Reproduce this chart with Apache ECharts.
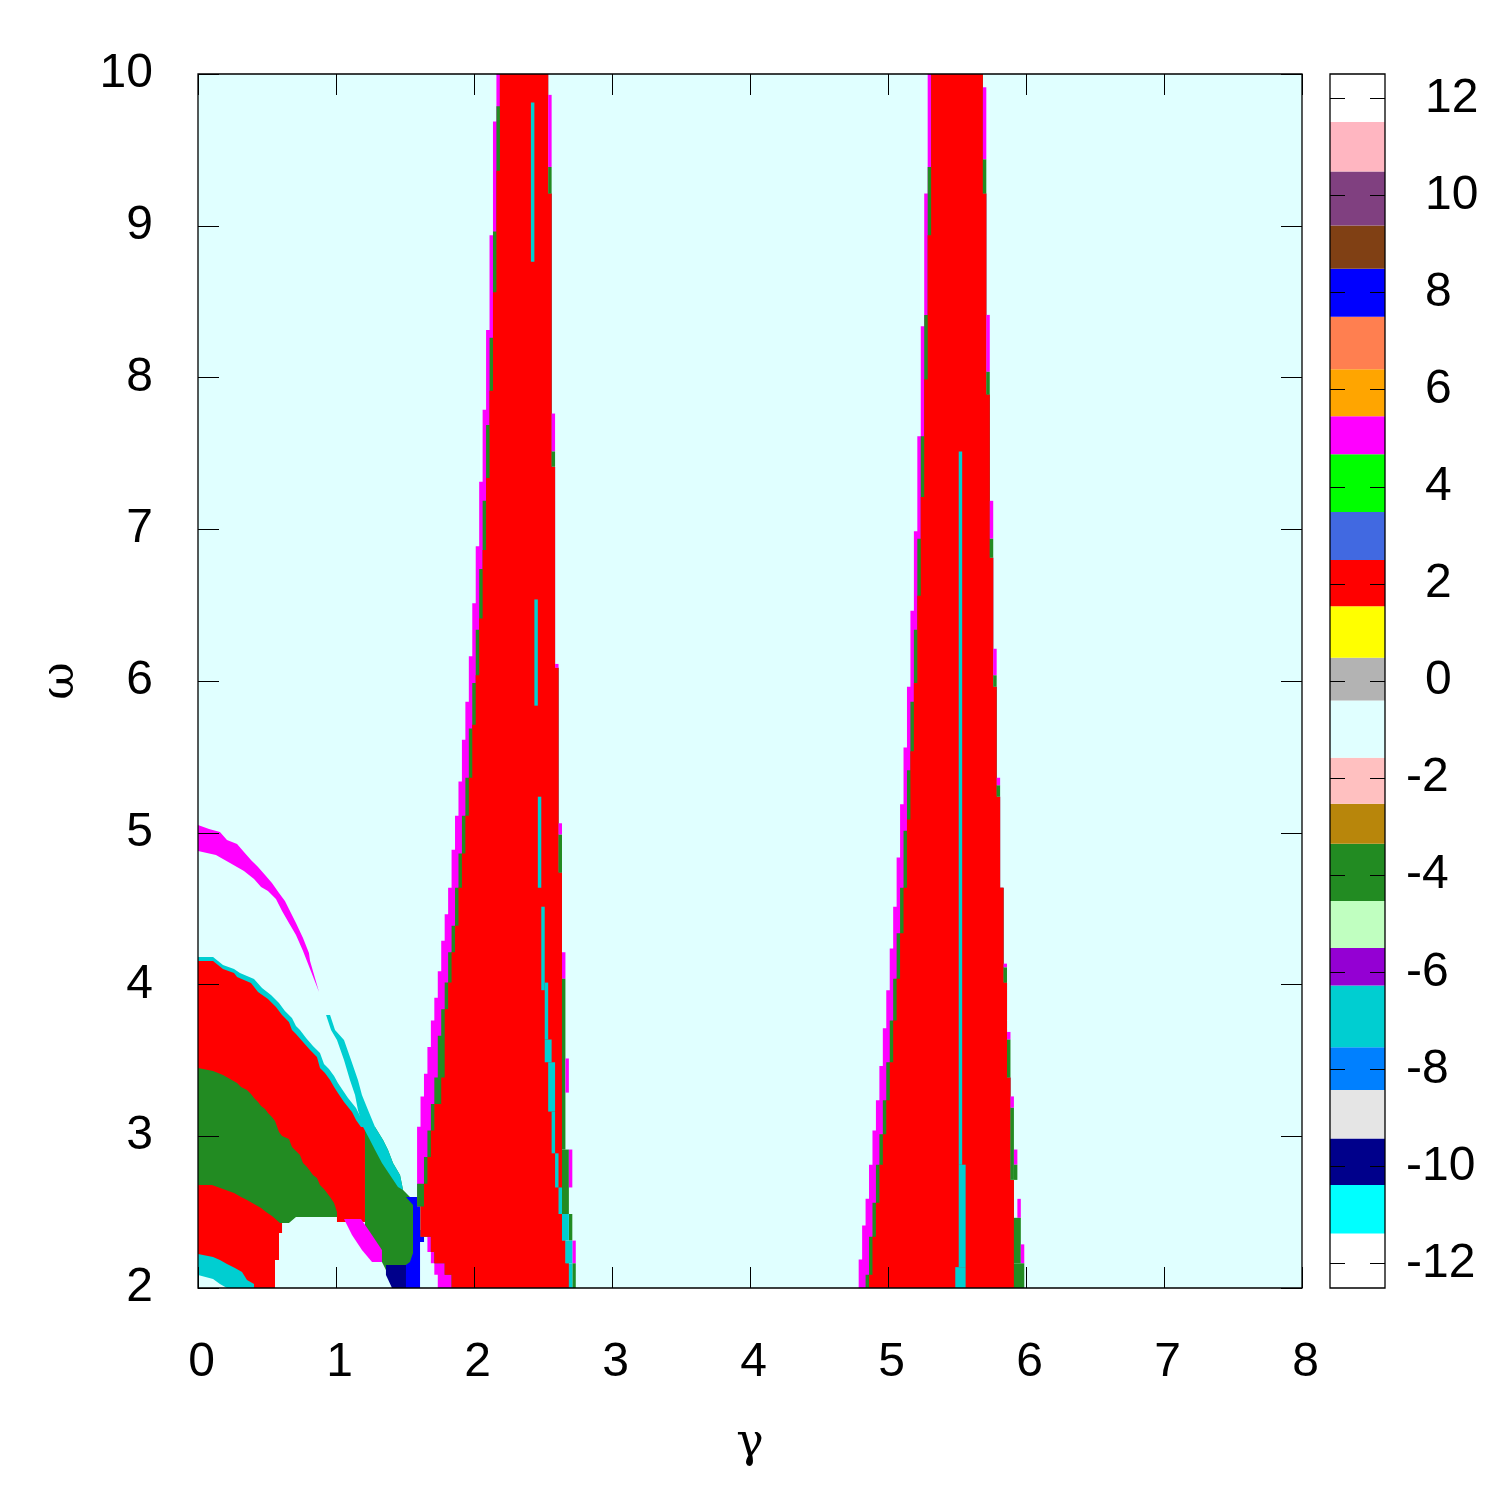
<!DOCTYPE html>
<html>
<head>
<meta charset="utf-8">
<script src="https://cdn.jsdelivr.net/npm/echarts@6/dist/echarts.min.js"></script>
<style>
  html, body { margin: 0; padding: 0; background: #fff; }
  #chart { width: 1500px; height: 1500px; }
</style>
</head>
<body>
<div id="chart"></div>
<script>
// axes
const gammaRange = [0, 8];
const omegaRange = [2, 10];

// colour box: band edges, one colour per integer value -12 .. 12
const cbTicks = [-12, -10, -8, -6, -4, -2, 0, 2, 4, 6, 8, 10, 12];
const cbEdges = [-12.5, -11.38, -10.38, -9.42, -8.42, -7.54, -6.27, -5.5, -4.53, -3.35, -2.53, -1.58, -0.4,
  0.48, 1.54, 2.49, 3.48, 4.67, 5.45, 6.42, 7.5, 8.49, 9.38, 10.49, 11.51, 12.5];
const cbColors = ['#ffffff', '#00ffff', '#00008b', '#e5e5e5', '#0080ff', '#00ced1', '#9400d3', '#c0ffc0',
  '#228b22', '#b8860b', '#ffc0c0', '#e0ffff', '#b3b3b3', '#ffff00', '#ff0000', '#4169e1', '#00ff00',
  '#ff00ff', '#ffa500', '#ff7f50', '#0000ff', '#804014', '#804080', '#ffb6c1', '#ffffff'];

// lower-left regions, outlines as [gamma, omega]
const magentaArc = [[0,5.051],[0.080,5.025],[0.159,5.005],[0.210,4.952],[0.283,4.926],[0.333,4.873],[0.384,4.820],
  [0.435,4.774],[0.486,4.722],[0.536,4.669],[0.587,4.603],[0.630,4.550],[0.659,4.498],[0.710,4.405],[0.761,4.306],
  [0.804,4.208],[0.812,4.155],[0.877,3.951],[0.812,4.102],[0.761,4.221],[0.710,4.326],[0.659,4.405],[0.609,4.484],
  [0.565,4.563],[0.507,4.616],[0.457,4.642],[0.406,4.695],[0.333,4.748],[0.232,4.801],[0.181,4.827],[0.130,4.853],[0,4.880]];
const redArcEdge = [[0,4.181],[0.109,4.181],[0.181,4.128],[0.261,4.102],[0.304,4.076],[0.406,4.036],[0.464,3.977],
  [0.529,3.931],[0.587,3.878],[0.630,3.825],[0.681,3.779],[0.710,3.727],[0.739,3.700],[0.783,3.647],[0.833,3.595],
  [0.884,3.549],[0.913,3.476],[0.949,3.443],[0.986,3.397],[1.014,3.351],[1.043,3.311],[1.087,3.252],[1.116,3.219],
  [1.145,3.186],[1.174,3.133],[1.210,3.087],[1.210,3.008],[0,3.008]];
const redArc = [[0,4.155],[0.109,4.155],[0.181,4.102],[0.261,4.076],[0.283,4.049],[0.384,4.010],[0.435,3.951],
  [0.507,3.904],[0.565,3.852],[0.609,3.799],[0.659,3.753],[0.681,3.700],[0.710,3.674],[0.761,3.621],[0.812,3.568],
  [0.862,3.522],[0.884,3.450],[0.920,3.417],[0.957,3.371],[0.986,3.325],[1.014,3.285],[1.058,3.226],[1.087,3.193],
  [1.116,3.160],[1.145,3.107],[1.181,3.061],[1.210,3.061],[1.210,2.435],[1.007,2.435],[1.007,2.468],[0.609,2.468],
  [0.609,2.362],[0.587,2.362],[0.587,2.184],[0.558,2.184],[0.558,2.0],[0,2.0]];
const greenArc = [[0,3.450],[0.109,3.430],[0.181,3.404],[0.232,3.377],[0.283,3.351],[0.312,3.325],[0.355,3.305],
  [0.384,3.278],[0.406,3.252],[0.435,3.226],[0.457,3.199],[0.486,3.180],[0.507,3.153],[0.536,3.127],[0.558,3.100],
  [0.587,3.028],[0.609,3.002],[0.659,2.982],[0.681,2.929],[0.710,2.903],[0.739,2.876],[0.761,2.824],[0.790,2.797],
  [0.812,2.771],[0.833,2.745],[0.862,2.725],[0.884,2.679],[0.913,2.652],[0.935,2.626],[0.957,2.600],[0.986,2.560],
  [1.007,2.501],[1.007,2.468],[0.710,2.468],[0.659,2.428],[0.594,2.428],[0.536,2.474],[0.493,2.501],[0.457,2.527],
  [0.406,2.554],[0.355,2.580],[0.312,2.600],[0.261,2.626],[0.181,2.652],[0.101,2.679],[0,2.679]];
const cornerCyan = [[0,2.224],[0.109,2.204],[0.159,2.184],[0.210,2.158],[0.268,2.132],[0.319,2.105],[0.355,2.053],
  [0.406,2.026],[0.406,2.0],[0,2.0]];
const cornerBlank = [[0,2.086],[0.109,2.059],[0.159,2.026],[0.210,2.0],[0,2.0]];
const lensGreen = [[1.181,3.061],[1.283,3.061],[1.341,2.975],[1.377,2.909],[1.413,2.824],[1.464,2.745],[1.486,2.646],
  [1.536,2.600],[1.587,2.560],[1.609,2.481],[1.609,2.316],[1.587,2.231],[1.558,2.165],[1.536,2.119],[1.362,2.119],
  [1.333,2.171],[1.283,2.217],[1.232,2.270],[1.210,2.316],[1.210,3.061]];
const cyanArc = [[0.928,3.799],[0.964,3.700],[1.007,3.634],[1.058,3.502],[1.101,3.371],[1.138,3.272],[1.159,3.173],
  [1.196,3.061],[1.246,2.975],[1.283,2.909],[1.333,2.824],[1.391,2.745],[1.449,2.666],[1.486,2.646],[1.464,2.745],
  [1.413,2.824],[1.377,2.909],[1.341,2.975],[1.283,3.061],[1.232,3.173],[1.188,3.272],[1.159,3.371],[1.109,3.502],
  [1.058,3.634],[0.993,3.700],[0.957,3.799]];
const blueBlock = [[1.507,2.600],[1.587,2.600],[1.609,2.547],[1.609,2.382],[1.638,2.382],[1.638,2.303],[1.609,2.303],
  [1.609,2.0],[1.457,2.0],[1.457,2.119],[1.536,2.171],[1.558,2.231],[1.558,2.547]];
const navyBlock = [[1.362,2.152],[1.507,2.152],[1.507,2.0],[1.406,2.0],[1.362,2.086]];
const magentaDiag = [[1.058,2.455],[1.181,2.455],[1.246,2.369],[1.333,2.250],[1.333,2.171],[1.261,2.171],
  [1.188,2.250],[1.116,2.349]];

// peaks: edge steps [omega where the step starts (going down), gamma]
const p1OuterLeft = [[10,2.1625],[9.6875,2.1375],[8.9375,2.1125],[8.3125,2.0875],[7.7875,2.0625],[7.3125,2.0375],
  [6.8875,2.0125],[6.5125,1.9875],[6.1625,1.9625],[5.8625,1.9375],[5.6125,1.9125],[5.3375,1.8875],[5.1125,1.8625],
  [4.8875,1.8375],[4.6375,1.8125],[4.4625,1.7875],[4.2875,1.7625],[4.0875,1.7375],[3.9125,1.7125],[3.7625,1.6875],
  [3.5875,1.6625],[3.4125,1.6375],[3.2625,1.6125],[3.0625,1.5875],[2.5375,1.6125],[2.3375,1.6625],[2.2375,1.6875],
  [2.1625,1.7125],[2.0875,1.7375]];
const p1GreenLeft = [[10,2.1875],[9.7875,2.1625],[8.9625,2.1375],[8.2625,2.1125],[7.6875,2.0875],[7.1875,2.0625],
  [6.7375,2.0375],[6.3375,2.0125],[5.9875,1.9875],[5.6875,1.9625],[5.3625,1.9375],[5.1125,1.9125],[4.8625,1.8875],
  [4.6375,1.8625],[4.3875,1.8375],[4.2125,1.8125],[4.0125,1.7875],[3.8375,1.7625],[3.6625,1.7375],[3.3875,1.7125],
  [3.2125,1.6875],[3.0375,1.6625],[2.8625,1.6375],[2.6875,1.5875],[2.5375,1.6125],[2.3375,1.6875],[2.2375,1.7125],
  [2.1625,1.7875],[2.0875,1.8375]];
const p1RedLeft = [[10,2.1875],[9.3625,2.1625],[8.5625,2.1375],[7.9125,2.1125],[7.3375,2.0875],[6.8625,2.0625],
  [6.4125,2.0375],[6.0375,2.0125],[5.7125,1.9875],[5.3625,1.9625],[5.1125,1.9375],[4.8625,1.9125],[4.6375,1.8875],
  [4.3875,1.8625],[4.2125,1.8375],[4.0125,1.8125],[3.8375,1.7875],[3.3875,1.7625],[3.2125,1.7125],[3.0375,1.6875],
  [2.8625,1.6625],[2.6875,1.6375],[2.5375,1.6125],[2.3375,1.6875],[2.2375,1.7125],[2.1625,1.7875],[2.0875,1.8375]];
const p1RedRight = [[10,2.5375],[9.2125,2.5625],[7.4125,2.5875],[6.0875,2.6125],[4.7375,2.6375],[2.3125,2.6625],
  [2.1625,2.6875]];
// cells [omega top, omega bottom, gamma left, gamma right, value]
const p1Cells = [
  [9.8625,9.3875,2.5375,2.5625,5],[9.3875,9.2125,2.5375,2.5625,-4],[7.7625,7.5125,2.5625,2.5875,5],
  [7.5125,7.4125,2.5625,2.5875,-4],[6.1125,6.0875,2.5875,2.6125,5],[5.0625,4.9875,2.6125,2.6375,5],
  [4.9875,4.7375,2.6125,2.6375,-4],[4.2125,4.0375,2.6375,2.6625,5],[4.0375,2.9125,2.6375,2.6625,-4],
  [3.5125,3.2875,2.6625,2.6875,5],[2.9125,2.4875,2.6375,2.6875,-4],[2.9125,2.6625,2.6875,2.7125,5],
  [2.4875,2.3125,2.6875,2.7125,-4],[2.3125,2.1625,2.7125,2.7375,5],[2.1625,2.0,2.7125,2.7375,-4],
  [9.8125,8.7625,2.4125,2.4375,-7],[6.5375,5.8375,2.4375,2.4625,-7],[5.2375,4.6375,2.4625,2.4875,-7],
  [4.5125,3.9625,2.4875,2.5125,-7],[4.0125,3.6375,2.5125,2.5375,-7],[3.6375,3.4875,2.5125,2.5625,-7],
  [3.4875,3.1625,2.5375,2.5875,-7],[3.1625,2.8875,2.5625,2.5875,-7],[2.8875,2.6625,2.5875,2.6125,-7],
  [2.6625,2.4875,2.6125,2.6375,-7],[2.4875,2.3125,2.6375,2.6875,-7],[2.3125,2.1625,2.6625,2.7125,-7],
  [2.1625,2.0,2.6875,2.7125,-7]];

const p2OuterLeft = [[10,5.2875],[9.2125,5.2625],[8.3375,5.2375],[7.6125,5.2125],[6.9875,5.1875],[6.4625,5.1625],
  [5.9625,5.1375],[5.5625,5.1125],[5.1875,5.0875],[4.8375,5.0625],[4.5125,5.0375],[4.2375,5.0125],[3.9625,4.9875],
  [3.7125,4.9625],[3.4625,4.9375],[3.2375,4.9125],[3.0375,4.8875],[2.8125,4.8625],[2.5875,4.8375],[2.4125,4.8125],
  [2.1875,4.7875]];
const p2GreenLeft = [[10,5.3125],[9.3875,5.2875],[8.4125,5.2625],[7.6125,5.2375],[6.9375,5.2125],[6.3375,5.1875],
  [5.8625,5.1625],[5.4125,5.1375],[5.0125,5.1125],[4.6375,5.0875],[4.3375,5.0625],[4.0375,5.0375],[3.7625,5.0125],
  [3.4875,4.9875],[3.2375,4.9625],[3.0125,4.9375],[2.8125,4.9125],[2.5625,4.8875],[2.3375,4.8625],[2.0875,4.8375]];
const p2RedLeft = [[10,5.3125],[8.9375,5.2875],[7.9875,5.2625],[7.2125,5.2375],[6.5625,5.2125],[5.9875,5.1875],
  [5.5375,5.1625],[5.0875,5.1375],[4.6375,5.1125],[4.3375,5.0875],[4.0375,5.0625],[3.7625,5.0375],[3.4875,5.0125],
  [3.2375,4.9875],[3.0125,4.9625],[2.8125,4.9375],[2.5625,4.9125],[2.3375,4.8875],[2.0875,4.8625]];
const p2RedRight = [[10,5.6875],[9.2125,5.7125],[7.8875,5.7375],[6.8125,5.7625],[5.9625,5.7875],[5.2375,5.8125],
  [4.6375,5.8375],[4.0125,5.8625],[3.3875,5.8875],[2.7125,5.9125]];
const p2Cells = [
  [9.9125,9.4375,5.6875,5.7125,5],[9.4375,9.2125,5.6875,5.7125,-4],[8.4125,8.0375,5.7125,5.7375,5],
  [8.0375,7.8875,5.7125,5.7375,-4],[7.1875,6.9375,5.7375,5.7625,5],[6.9375,6.8125,5.7375,5.7625,-4],
  [6.2125,6.0375,5.7625,5.7875,5],[6.0375,5.9625,5.7625,5.7875,-4],[5.3625,5.3125,5.7875,5.8125,5],
  [5.3125,5.2375,5.7875,5.8125,-4],[4.1375,4.1125,5.8375,5.8625,5],[4.1125,4.0125,5.8375,5.8625,-4],
  [3.6875,3.6375,5.8625,5.8875,5],[3.6375,3.3875,5.8625,5.8875,-4],[3.2625,3.1875,5.8875,5.9125,5],
  [3.1875,2.7125,5.8875,5.9125,-4],[2.9125,2.8125,5.9125,5.9375,5],[2.8125,2.7125,5.9125,5.9375,-4],
  [2.5875,2.4625,5.9375,5.9625,5],[2.4625,2.1625,5.9125,5.9625,-4],[2.2875,2.1625,5.9625,5.9875,5],
  [2.1625,2.0,5.9125,5.9875,-4],
  [7.5125,2.8125,5.5125,5.5375,-7],[2.8125,2.1375,5.5125,5.5625,-7],[2.1375,2.0,5.4875,5.5625,-7]];

const FONT = 'Liberation Sans, Arial, Helvetica, sans-serif';

function colorOf(v) {
  return cbColors[v + 12];
}

// outline of a step edge, top to bottom
function stepPath(steps) {
  const pts = [];
  steps.forEach((s, i) => {
    const lo = i + 1 < steps.length ? steps[i + 1][0] : omegaRange[0];
    pts.push([s[1], s[0]], [s[1], lo]);
  });
  return pts;
}
function stepBand(left, right) {
  return stepPath(left).concat(stepPath(right).reverse());
}
function cellBox(c) {
  return [[c[2], c[0]], [c[3], c[0]], [c[3], c[1]], [c[2], c[1]]];
}

const shapes = [
  { pts: [[gammaRange[0], omegaRange[0]], [gammaRange[1], omegaRange[0]], [gammaRange[1], omegaRange[1]], [gammaRange[0], omegaRange[1]]], v: -1 },
  { pts: magentaArc, v: 5 },
  { pts: redArcEdge, v: -7 },
  { pts: redArc, v: 2 },
  { pts: greenArc, v: -4 },
  { pts: cornerCyan, v: -7 },
  { pts: cornerBlank, v: -1 },
  { pts: lensGreen, v: -4 },
  { pts: cyanArc, v: -7 },
  { pts: blueBlock, v: 8 },
  { pts: navyBlock, v: -10 },
  { pts: magentaDiag, v: 5 },
  { pts: stepBand(p1OuterLeft, p1RedRight), v: 5 },
  { pts: stepBand(p1GreenLeft, p1RedRight), v: -4 },
  { pts: stepBand(p1RedLeft, p1RedRight), v: 2 },
  ...p1Cells.map(c => ({ pts: cellBox(c), v: c[4] })),
  { pts: stepBand(p2OuterLeft, p2RedRight), v: 5 },
  { pts: stepBand(p2GreenLeft, p2RedRight), v: -4 },
  { pts: stepBand(p2RedLeft, p2RedRight), v: 2 },
  ...p2Cells.map(c => ({ pts: cellBox(c), v: c[4] }))
];

const chart = echarts.init(document.getElementById('chart'), null, { renderer: 'canvas' });

const tickStyle = { color: '#000', width: 1 };
const labelStyle = { color: '#000', fontSize: 48, fontFamily: FONT };
const nameStyle = { color: '#000', fontSize: 46, fontFamily: 'DejaVu Serif, serif' };

const option = {
  backgroundColor: '#fff',
  animation: false,
  grid: [
    { left: 198, top: 74, width: 1104, height: 1214, show: true, borderColor: '#000', borderWidth: 1.3, backgroundColor: 'transparent', z: 4 },
    { left: 1330, top: 74, width: 55, height: 1214, show: true, borderColor: '#000', borderWidth: 1.3, backgroundColor: 'transparent', z: 4 }
  ],
  xAxis: [
    {
      gridIndex: 0, type: 'value', min: gammaRange[0], max: gammaRange[1], interval: 1, position: 'bottom', z: 5,
      name: 'γ', nameLocation: 'middle', nameGap: 133, nameTextStyle: nameStyle,
      axisLine: { show: false },
      axisTick: { inside: true, length: 21, lineStyle: tickStyle },
      axisLabel: { ...labelStyle, margin: 51, padding: [0, 0, 0, 7] },
      splitLine: { show: false }
    },
    {
      gridIndex: 0, type: 'value', min: gammaRange[0], max: gammaRange[1], interval: 1, position: 'top', z: 5,
      axisLine: { show: false },
      axisTick: { inside: true, length: 21, lineStyle: tickStyle },
      axisLabel: { show: false },
      splitLine: { show: false }
    },
    { gridIndex: 1, type: 'value', min: 0, max: 1, show: false }
  ],
  yAxis: [
    {
      gridIndex: 0, type: 'value', min: omegaRange[0], max: omegaRange[1], interval: 1, position: 'left', z: 5,
      name: 'ω', nameLocation: 'middle', nameGap: 114, nameRotate: 90, nameTextStyle: nameStyle,
      axisLine: { show: false, onZero: false },
      axisTick: { inside: true, length: 21, lineStyle: tickStyle },
      axisLabel: { ...labelStyle, margin: 45 },
      splitLine: { show: false }
    },
    {
      gridIndex: 0, type: 'value', min: omegaRange[0], max: omegaRange[1], interval: 1, position: 'right', z: 5,
      axisLine: { show: false, onZero: false },
      axisTick: { inside: true, length: 21, lineStyle: tickStyle },
      axisLabel: { show: false },
      splitLine: { show: false }
    },
    {
      gridIndex: 1, type: 'value', min: -12.5, max: 12.5, position: 'left', z: 5,
      axisLine: { show: false, onZero: false },
      axisTick: { inside: true, length: 15, lineStyle: tickStyle, customValues: cbTicks },
      axisLabel: { show: false },
      splitLine: { show: false }
    },
    {
      gridIndex: 1, type: 'value', min: -12.5, max: 12.5, position: 'right', z: 5,
      axisLine: { show: false, onZero: false },
      axisTick: { inside: true, length: 15, lineStyle: tickStyle, customValues: cbTicks },
      axisLabel: {
        customValues: cbTicks, margin: 21,
        formatter: v => (v < 0 ? '{n|' + v + '}' : '{p| }{n|' + v + '}'),
        rich: { n: labelStyle, p: { width: 19, fontSize: 48, fontFamily: FONT } }
      },
      splitLine: { show: false }
    }
  ],
  series: [
    {
      type: 'custom',
      xAxisIndex: 0, yAxisIndex: 0,
      clip: true,
      silent: true,
      data: shapes.map((s, i) => [s.pts[0][0], s.pts[0][1], i]),
      encode: { x: 0, y: 1 },
      renderItem: (params, api) => {
        const s = shapes[params.dataIndex];
        return {
          type: 'polygon',
          shape: { points: s.pts.map(p => api.coord(p)) },
          style: { fill: colorOf(s.v), stroke: null }
        };
      },
      z: 1
    },
    {
      type: 'custom',
      xAxisIndex: 2, yAxisIndex: 2,
      silent: true,
      data: cbColors.map((c, i) => [0, cbEdges[i], cbEdges[i + 1], i]),
      encode: { x: 0, y: [1, 2] },
      renderItem: (params, api) => {
        const a = api.coord([0, api.value(2)]);
        const b = api.coord([1, api.value(1)]);
        return {
          type: 'rect',
          shape: { x: a[0], y: a[1], width: b[0] - a[0], height: b[1] - a[1] },
          style: { fill: cbColors[api.value(3)], stroke: null }
        };
      },
      z: 1
    }
  ]
};

chart.setOption(option);
</script>
</body>
</html>
